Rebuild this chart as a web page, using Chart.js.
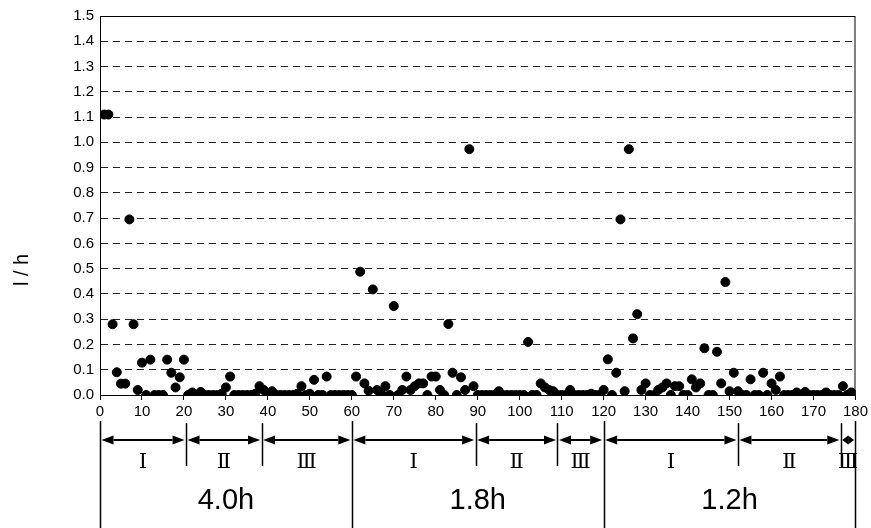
<!DOCTYPE html>
<html>
<head>
<meta charset="utf-8">
<script src="https://cdn.jsdelivr.net/npm/chart.js@4"></script>
<style>
  html, body { margin: 0; padding: 0; background: #fff; }
  #wrap { width: 871px; height: 528px; }
</style>
</head>
<body>
<div id="wrap"><canvas id="chart" width="871" height="528"></canvas></div>
<script>
// sample readings, one per run number (1..180)
const flowValues = [
  1.11, 1.11, 0.28, 0.09, 0.045, 0.045, 0.695, 0.28, 0.02, 0.128,
  0, 0.14, 0, 0, 0, 0.14, 0.088, 0.03, 0.07, 0.14,
  0, 0.01, 0, 0.012, 0, 0, 0, 0, 0.005, 0.03,
  0.073, 0, 0, 0, 0, 0, 0.005, 0.035, 0.02, 0,
  0.015, 0, 0, 0, 0, 0, 0.005, 0.035, 0, 0.005,
  0.06, 0, 0, 0.073, 0, 0, 0, 0, 0, 0,
  0.073, 0.488, 0.046, 0.017, 0.418, 0.02, 0.005, 0.035, 0, 0.352,
  0, 0.02, 0.073, 0.02, 0.035, 0.046, 0.046, 0, 0.073, 0.073,
  0.02, 0, 0.281, 0.088, 0, 0.07, 0.02, 0.973, 0.035, 0,
  0, 0, 0, 0, 0.015, 0, 0, 0, 0, 0,
  0, 0.21, 0, 0, 0.046, 0.03, 0.02, 0.015, 0, 0,
  0, 0.02, 0, 0, 0, 0, 0.005, 0, 0, 0.02,
  0.141, 0, 0.088, 0.695, 0.015, 0.973, 0.224, 0.32, 0.02, 0.046,
  0, 0, 0.02, 0.03, 0.046, 0, 0.035, 0.035, 0, 0,
  0.062, 0.03, 0.046, 0.185, 0, 0, 0.171, 0.046, 0.447, 0.015,
  0.088, 0.015, 0, 0, 0.062, 0, 0, 0.088, 0, 0.046,
  0.02, 0.073, 0, 0, 0, 0.01, 0, 0.012, 0, 0,
  0, 0, 0.01, 0, 0, 0, 0.035, 0, 0.01, 0
];

// phase boundaries under the x axis (in run numbers)
const phaseEdges = [0, 20.5, 38.5, 60, 89.5, 109, 120, 152, 176.5, 180];
const phaseLabels = ['Ⅰ', 'Ⅱ', 'Ⅲ', 'Ⅰ', 'Ⅱ', 'Ⅲ', 'Ⅰ', 'Ⅱ', 'Ⅲ'];
const runEdges = [0, 60, 120, 180];
const runLabels = ['4.0h', '1.8h', '1.2h'];

const yTitle = 'l / h';

const points = flowValues.map((v, i) => ({ x: i + 1, y: v }));

function arrowHead(ctx, x, y, dir, len) {
  ctx.beginPath();
  ctx.moveTo(x, y);
  ctx.lineTo(x + dir * len, y - 4.5);
  ctx.lineTo(x + dir * len, y + 4.5);
  ctx.closePath();
  ctx.fill();
}

const extras = {
  id: 'extras',
  afterDraw(chart) {
    const { ctx, chartArea: a, scales: { x } } = chart;
    ctx.save();
    ctx.strokeStyle = '#000';
    ctx.fillStyle = '#000';
    ctx.setLineDash([]);

    // frame
    ctx.lineWidth = 1;
    ctx.strokeRect(a.left + 0.5, a.top + 0.5, a.right - a.left - 1, a.bottom - a.top);

    // y title
    ctx.save();
    ctx.translate(22, 270);
    ctx.rotate(-Math.PI / 2);
    ctx.font = '20px Arial, "Liberation Sans", sans-serif';
    ctx.textAlign = 'center';
    ctx.textBaseline = 'middle';
    ctx.fillText(yTitle, 0, 0);
    ctx.restore();

    // separators
    ctx.lineWidth = 1.5;
    phaseEdges.forEach(v => {
      const px = Math.round(x.getPixelForValue(v)) + 0.5;
      const tall = runEdges.includes(v);
      ctx.beginPath();
      ctx.moveTo(px, tall ? 421 : 423);
      ctx.lineTo(px, tall ? 528 : 466);
      ctx.stroke();
    });

    // arrows + phase labels
    const ay = 440;
    ctx.font = '21px "DejaVu Serif", "Liberation Serif", serif';
    ctx.textAlign = 'center';
    ctx.textBaseline = 'middle';
    for (let i = 0; i < phaseLabels.length; i++) {
      const x0 = x.getPixelForValue(phaseEdges[i]) + 1.5;
      const x1 = x.getPixelForValue(phaseEdges[i + 1]) - 1.5;
      const len = Math.min(12, (x1 - x0) / 2);
      ctx.lineWidth = 2;
      ctx.beginPath();
      ctx.moveTo(x0 + len, ay);
      ctx.lineTo(x1 - len, ay);
      ctx.stroke();
      arrowHead(ctx, x0, ay, 1, len);
      arrowHead(ctx, x1, ay, -1, len);
      ctx.fillText(phaseLabels[i], (x0 + x1) / 2, 463);
    }

    // run duration labels
    ctx.font = '29px Arial, "Liberation Sans", sans-serif';
    for (let i = 0; i < runLabels.length; i++) {
      const mid = (runEdges[i] + runEdges[i + 1]) / 2;
      ctx.fillText(runLabels[i], x.getPixelForValue(mid), 501);
    }
    ctx.restore();
  }
};

new Chart(document.getElementById('chart'), {
  type: 'scatter',
  data: {
    datasets: [{
      data: points,
      backgroundColor: '#000',
      borderColor: '#000',
      pointRadius: 4.5,
      pointHoverRadius: 4.5
    }]
  },
  options: {
    responsive: false,
    animation: false,
    events: [],
    layout: { padding: { top: 16, right: 12, bottom: 103, left: 0 } },
    plugins: { legend: { display: false }, tooltip: { enabled: false } },
    scales: {
      x: {
        type: 'linear',
        min: 0,
        max: 180,
        afterFit: s => { s.height = 30; },
        ticks: {
          stepSize: 10,
          color: '#000',
          padding: 3,
          maxRotation: 0,
          font: { family: 'Arial, "Liberation Sans", sans-serif', size: 15 }
        },
        grid: { drawOnChartArea: false, drawTicks: true, tickLength: 5, color: '#000' },
        border: { color: '#000', width: 1 }
      },
      y: {
        min: 0,
        max: 1.5,
        afterFit: s => { s.width = 100; },
        ticks: {
          stepSize: 0.1,
          color: '#000',
          padding: 6,
          callback: v => v.toFixed(1),
          font: { family: 'Arial, "Liberation Sans", sans-serif', size: 15 }
        },
        grid: { color: '#222', lineWidth: 1, drawTicks: false },
        border: { color: '#000', width: 1, dash: [7, 5] }
      }
    }
  },
  plugins: [extras]
});
</script>
</body>
</html>
